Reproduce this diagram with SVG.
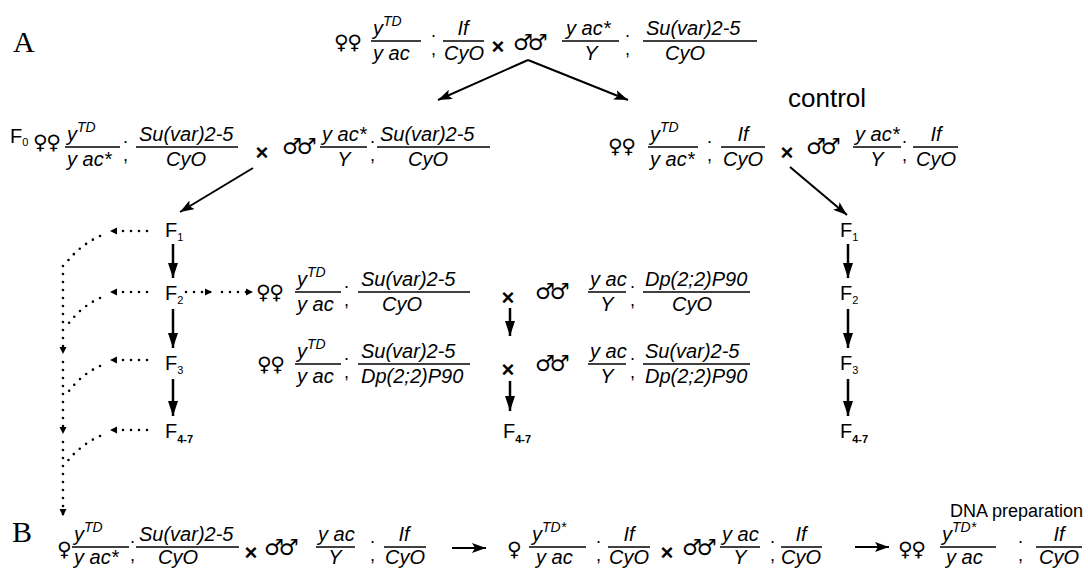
<svg xmlns="http://www.w3.org/2000/svg" width="1088" height="568" viewBox="0 0 1088 568">
  <defs>
    <style>
      .g { font-family: "Liberation Sans", Arial, sans-serif; font-style: italic; font-size: 20px; fill: #000; }
      .m { text-anchor: middle; }
      .sup { font-size: 14px; }
      .p { font-family: "Liberation Sans", Arial, sans-serif; font-size: 20px; fill: #000; }
      .sep { font-family: "Liberation Sans", Arial, sans-serif; font-size: 18px; fill: #000; }
      .sym { font-family: "DejaVu Sans", sans-serif; font-size: 20px; font-weight: bold; fill: #000; letter-spacing: -1.5px; }
      .male { font-family: "DejaVu Sans", sans-serif; font-size: 22px; font-style: italic; font-weight: bold; fill: #000; letter-spacing: -5px; }
      .x { font-family: "Liberation Sans", Arial, sans-serif; font-size: 22px; font-weight: bold; text-anchor: middle; fill: #000; }
      .F { font-family: "Liberation Sans", Arial, sans-serif; font-size: 20px; fill: #000; }
      .sub { font-size: 11px; }
      .lbl { font-family: "Liberation Serif", "Times New Roman", serif; font-size: 30px; fill: #000; }
      .bar { stroke: #000; stroke-width: 1.6; }
      .arr { stroke: #000; stroke-width: 2; fill: none; marker-end: url(#ah); }
      .varr { stroke: #000; stroke-width: 2.5; fill: none; marker-end: url(#ahv); }
      .dot { stroke: #000; stroke-width: 2.6; stroke-linecap: round; stroke-dasharray: 0 8; fill: none; }
      .dota { marker-end: url(#ahd); }
    </style>
    <marker id="ah" markerUnits="userSpaceOnUse" markerWidth="16" markerHeight="10" refX="14" refY="5" orient="auto">
      <path d="M0,0 L14,5 L0,10 L3,5 z" fill="#000"/>
    </marker>
    <marker id="ahv" markerUnits="userSpaceOnUse" markerWidth="16" markerHeight="10" refX="15" refY="5" orient="auto">
      <path d="M0,0 L15,5 L0,10 z" fill="#000"/>
    </marker>
    <marker id="ahd" markerUnits="userSpaceOnUse" markerWidth="8" markerHeight="8" refX="7" refY="4" orient="auto">
      <path d="M0,0.5 L7,4 L0,7.5 z" fill="#000"/>
    </marker>
  </defs>
  <rect width="1088" height="568" fill="#fff"/>

  <!-- section labels -->
  <text class="lbl" x="13" y="52">A</text>
  <text class="lbl" x="12" y="542">B</text>

  <!-- parental cross -->
  <g id="cross-parents">
    <text class="sym" x="334" y="49">♀♀</text>
    <text class="g" x="373" y="35">y<tspan class="sup" dy="-9">TD</tspan></text>
    <line class="bar" x1="371" y1="41" x2="421" y2="41"/>
    <text class="g" x="373" y="60">y ac</text>
    <text class="sep"><tspan x="431" y="37">.</tspan><tspan x="431" y="55">,</tspan></text>
    <text class="g m" x="463" y="35">If</text>
    <line class="bar" x1="443" y1="41" x2="484" y2="41"/>
    <text class="g m" x="464" y="60">CyO</text>
    <text class="x" x="498" y="54">×</text>
    <text class="male" x="513" y="50">♂♂</text>
    <text class="g" x="566" y="35">y ac*</text>
    <line class="bar" x1="562" y1="41" x2="619" y2="41"/>
    <text class="g m" x="591" y="60">Y</text>
    <text class="sep"><tspan x="625" y="37">.</tspan><tspan x="625" y="55">,</tspan></text>
    <text class="g" x="646" y="35">Su(var)2-5</text>
    <line class="bar" x1="643" y1="41" x2="757" y2="41"/>
    <text class="g" x="665" y="60">CyO</text>
  </g>

  <!-- F0 cross -->
  <g id="cross-f0">
    <text class="F" x="10" y="143">F<tspan class="sub" dy="3">0</tspan></text>
    <text class="sym" x="33" y="149">♀♀</text>
    <text class="g" x="67" y="141">y<tspan class="sup" dy="-9">TD</tspan></text>
    <line class="bar" x1="65" y1="147" x2="120" y2="147"/>
    <text class="g" x="67" y="166">y ac*</text>
    <text class="sep"><tspan x="123" y="143">.</tspan><tspan x="123" y="161">,</tspan></text>
    <text class="g" x="139" y="141">Su(var)2-5</text>
    <line class="bar" x1="136" y1="147" x2="238" y2="147"/>
    <text class="g m" x="186" y="166">CyO</text>
    <text class="x" x="262" y="160">×</text>
    <text class="male" x="282" y="154">♂♂</text>
    <text class="g" x="322" y="141">y ac*</text>
    <line class="bar" x1="320" y1="147" x2="367" y2="147"/>
    <text class="g m" x="344" y="166">Y</text>
    <text class="sep"><tspan x="370" y="143">.</tspan><tspan x="370" y="161">,</tspan></text>
    <text class="g" x="380" y="141">Su(var)2-5</text>
    <line class="bar" x1="377" y1="147" x2="490" y2="147"/>
    <text class="g m" x="428" y="166">CyO</text>
  </g>

  <!-- control cross -->
  <g id="cross-control">
    <text class="p" x="788" y="107" style="font-size:26px">control</text>
    <text class="sym" x="608" y="153">♀♀</text>
    <text class="g" x="650" y="141">y<tspan class="sup" dy="-9">TD</tspan></text>
    <line class="bar" x1="648" y1="147" x2="698" y2="147"/>
    <text class="g" x="650" y="166">y ac*</text>
    <text class="sep"><tspan x="707" y="143">.</tspan><tspan x="707" y="161">,</tspan></text>
    <text class="g m" x="743" y="141">If</text>
    <line class="bar" x1="721" y1="147" x2="765" y2="147"/>
    <text class="g m" x="743" y="166">CyO</text>
    <text class="x" x="787" y="160">×</text>
    <text class="male" x="806" y="154">♂♂</text>
    <text class="g" x="855" y="141">y ac*</text>
    <line class="bar" x1="853" y1="147" x2="901" y2="147"/>
    <text class="g m" x="877" y="166">Y</text>
    <text class="sep"><tspan x="902" y="143">.</tspan><tspan x="902" y="161">,</tspan></text>
    <text class="g m" x="936" y="141">If</text>
    <line class="bar" x1="913" y1="147" x2="958" y2="147"/>
    <text class="g m" x="936" y="166">CyO</text>
  </g>

  <!-- generations, selection line -->
  <g id="gen-selected">
    <text class="F" x="165" y="237">F<tspan class="sub" dy="4">1</tspan></text>
    <text class="F" x="165" y="300">F<tspan class="sub" dy="4">2</tspan></text>
    <text class="F" x="165" y="370">F<tspan class="sub" dy="4">3</tspan></text>
    <text class="F" x="165" y="438">F<tspan class="sub" dy="5" font-weight="bold">4-7</tspan></text>
  </g>

  <!-- generations, control line -->
  <g id="gen-control">
    <text class="F" x="840" y="237">F<tspan class="sub" dy="4">1</tspan></text>
    <text class="F" x="840" y="300">F<tspan class="sub" dy="4">2</tspan></text>
    <text class="F" x="840" y="370">F<tspan class="sub" dy="4">3</tspan></text>
    <text class="F" x="840" y="438">F<tspan class="sub" dy="5" font-weight="bold">4-7</tspan></text>
  </g>

  <!-- duplication crosses -->
  <g id="cross-dp1">
    <text class="sym" x="256" y="299">♀♀</text>
    <text class="g" x="297" y="286">y<tspan class="sup" dy="-9">TD</tspan></text>
    <line class="bar" x1="295" y1="292" x2="341" y2="292"/>
    <text class="g" x="297" y="311">y ac</text>
    <text class="sep"><tspan x="344" y="288">.</tspan><tspan x="344" y="306">,</tspan></text>
    <text class="g" x="361" y="286">Su(var)2-5</text>
    <line class="bar" x1="358" y1="292" x2="470" y2="292"/>
    <text class="g m" x="402" y="311">CyO</text>
    <text class="x" x="508" y="305">×</text>
    <text class="male" x="535" y="299">♂♂</text>
    <text class="g" x="590" y="286">y ac</text>
    <line class="bar" x1="588" y1="292" x2="626" y2="292"/>
    <text class="g m" x="607" y="311">Y</text>
    <text class="sep"><tspan x="630" y="288">.</tspan><tspan x="630" y="306">,</tspan></text>
    <text class="g" x="645" y="286">Dp(2;2)P90</text>
    <line class="bar" x1="643" y1="292" x2="750" y2="292"/>
    <text class="g m" x="692" y="311">CyO</text>
  </g>

  <g id="cross-dp2">
    <text class="sym" x="257" y="371">♀♀</text>
    <text class="g" x="297" y="358">y<tspan class="sup" dy="-9">TD</tspan></text>
    <line class="bar" x1="295" y1="364" x2="341" y2="364"/>
    <text class="g" x="297" y="383">y ac</text>
    <text class="sep"><tspan x="344" y="360">.</tspan><tspan x="344" y="378">,</tspan></text>
    <text class="g" x="361" y="358">Su(var)2-5</text>
    <line class="bar" x1="358" y1="364" x2="470" y2="364"/>
    <text class="g" x="361" y="383">Dp(2;2)P90</text>
    <text class="x" x="508" y="377">×</text>
    <text class="male" x="535" y="371">♂♂</text>
    <text class="g" x="590" y="358">y ac</text>
    <line class="bar" x1="588" y1="364" x2="626" y2="364"/>
    <text class="g m" x="607" y="383">Y</text>
    <text class="sep"><tspan x="630" y="360">.</tspan><tspan x="630" y="378">,</tspan></text>
    <text class="g" x="645" y="358">Su(var)2-5</text>
    <line class="bar" x1="643" y1="364" x2="750" y2="364"/>
    <text class="g" x="645" y="383">Dp(2;2)P90</text>
  </g>

  <g id="gen-dp">
    <text class="F" x="503" y="438">F<tspan class="sub" dy="5" font-weight="bold">4-7</tspan></text>
  </g>

  <!-- backcross series -->
  <g id="cross-b1">
    <text class="sym" x="57" y="556">♀</text>
    <text class="g" x="74" y="541">y<tspan class="sup" dy="-9">TD</tspan></text>
    <line class="bar" x1="72" y1="547" x2="129" y2="547"/>
    <text class="g" x="74" y="564">y ac*</text>
    <text class="sep"><tspan x="130" y="543">.</tspan><tspan x="130" y="561">,</tspan></text>
    <text class="g" x="139" y="541">Su(var)2-5</text>
    <line class="bar" x1="136" y1="547" x2="239" y2="547"/>
    <text class="g m" x="178" y="564">CyO</text>
    <text class="x" x="251" y="560">×</text>
    <text class="male" x="264" y="555">♂♂</text>
    <text class="g" x="318" y="541">y ac</text>
    <line class="bar" x1="316" y1="547" x2="355" y2="547"/>
    <text class="g m" x="335" y="564">Y</text>
    <text class="sep"><tspan x="370" y="543">.</tspan><tspan x="370" y="561">,</tspan></text>
    <text class="g m" x="404" y="541">If</text>
    <line class="bar" x1="384" y1="547" x2="426" y2="547"/>
    <text class="g m" x="405" y="564">CyO</text>
  </g>

  <g id="cross-b2">
    <text class="sym" x="507" y="556">♀</text>
    <text class="g" x="532" y="541">y<tspan class="sup" dy="-9">TD*</tspan></text>
    <line class="bar" x1="529" y1="547" x2="586" y2="547"/>
    <text class="g" x="536" y="564">y ac</text>
    <text class="sep"><tspan x="596" y="543">.</tspan><tspan x="596" y="561">,</tspan></text>
    <text class="g m" x="629" y="541">If</text>
    <line class="bar" x1="608" y1="547" x2="650" y2="547"/>
    <text class="g m" x="629" y="564">CyO</text>
    <text class="x" x="667" y="560">×</text>
    <text class="male" x="682" y="555">♂♂</text>
    <text class="g" x="722" y="541">y ac</text>
    <line class="bar" x1="720" y1="547" x2="760" y2="547"/>
    <text class="g m" x="740" y="564">Y</text>
    <text class="sep"><tspan x="770" y="543">.</tspan><tspan x="770" y="561">,</tspan></text>
    <text class="g m" x="801" y="541">If</text>
    <line class="bar" x1="781" y1="547" x2="822" y2="547"/>
    <text class="g m" x="801" y="564">CyO</text>
  </g>

  <g id="stock-dna">
    <text class="p" x="1083" y="517" style="font-size:18px" text-anchor="end">DNA preparation</text>
    <text class="sym" x="898" y="556">♀♀</text>
    <text class="g" x="942" y="541">y<tspan class="sup" dy="-9">TD*</tspan></text>
    <line class="bar" x1="940" y1="547" x2="996" y2="547"/>
    <text class="g" x="946" y="564">y ac</text>
    <text class="sep"><tspan x="1018" y="543">.</tspan><tspan x="1018" y="561">,</tspan></text>
    <text class="g m" x="1059" y="541">If</text>
    <line class="bar" x1="1036" y1="547" x2="1082" y2="547"/>
    <text class="g m" x="1059" y="564">CyO</text>
  </g>

  <!-- connectors -->
  <g id="connectors">
    <line class="arr" x1="528" y1="60" x2="438" y2="100"/>
    <line class="arr" x1="528" y1="60" x2="628" y2="100"/>
    <line class="arr" x1="253" y1="168" x2="180" y2="212"/>
    <line class="arr" x1="790" y1="167" x2="847" y2="215"/>

    <line class="varr" x1="173" y1="244" x2="173" y2="278"/>
    <line class="varr" x1="173" y1="309" x2="173" y2="348"/>
    <line class="varr" x1="173" y1="379" x2="173" y2="416"/>
    <line class="varr" x1="848" y1="244" x2="848" y2="278"/>
    <line class="varr" x1="848" y1="309" x2="848" y2="348"/>
    <line class="varr" x1="848" y1="379" x2="848" y2="416"/>
    <line class="varr" x1="510" y1="308" x2="510" y2="336"/>
    <line class="varr" x1="510" y1="381" x2="510" y2="411"/>

    <line class="arr" x1="452" y1="548" x2="486" y2="548"/>
    <line class="arr" x1="855" y1="547" x2="889" y2="547"/>

    <!-- sampling from each generation -->
    <path class="dot dota" d="M147,231 L110,231"/>
    <path class="dot dota" d="M147,292 L110,292"/>
    <path class="dot dota" d="M147,360 L110,360"/>
    <path class="dot dota" d="M147,430 L110,430"/>
    <path class="dot" d="M100,236 Q78,246 64,266"/>
    <path class="dot" d="M100,298 Q80,307 66,327"/>
    <path class="dot" d="M100,366 Q80,375 66,395"/>
    <path class="dot" d="M100,436 Q80,445 66,463"/>
    <path class="dot dota" d="M63,266 L63,354"/>
    <path class="dot dota" d="M63,362 L63,434"/>
    <path class="dot dota" d="M63,442 L63,516"/>

    <path class="dot dota" d="M186,292 L212,292"/>
    <path class="dot dota" d="M222,292 L253,292"/>
  </g>
</svg>
